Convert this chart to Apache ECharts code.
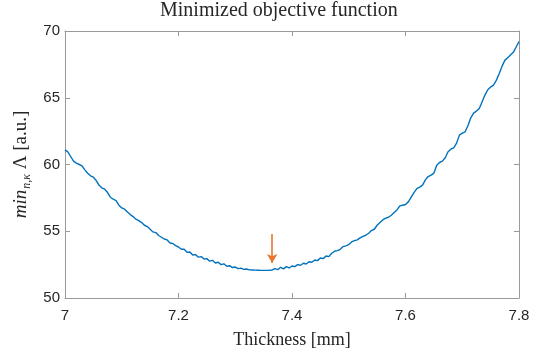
<!DOCTYPE html>
<html>
<head>
<meta charset="utf-8">
<script src="https://cdn.jsdelivr.net/npm/echarts@6/dist/echarts.min.js"></script>
<style>
html,body{margin:0;padding:0;background:#fff;}
#c{width:540px;height:354px;}
</style>
</head>
<body>
<div id="c"></div>
<script>
// Data
var xStart = 7.0, xStep = 0.005;
var objective = [
61.10,60.95,60.60,60.25,60.10,60.00,59.90,59.60,59.35,59.15,
59.05,58.80,58.45,58.25,58.15,57.90,57.55,57.40,57.30,56.95,
56.75,56.65,56.45,56.25,56.10,55.90,55.80,55.65,55.45,55.35,
55.15,54.95,54.90,54.68,54.55,54.42,54.35,54.12,54.08,53.92,
53.82,53.65,53.65,53.42,53.45,53.22,53.25,53.06,53.10,52.92,
52.95,52.76,52.82,52.62,52.68,52.50,52.56,52.38,52.42,52.28,
52.32,52.20,52.24,52.14,52.17,52.11,52.10,52.09,52.08,52.07,
52.07,52.07,52.08,52.10,52.20,52.12,52.30,52.18,52.35,52.25,
52.40,52.35,52.50,52.45,52.60,52.55,52.72,52.68,52.85,52.80,
53.00,52.95,53.15,53.10,53.35,53.50,53.55,53.65,53.85,53.90,
54.00,54.20,54.30,54.35,54.50,54.62,54.70,54.85,55.05,55.15,
55.45,55.65,55.85,55.98,56.05,56.20,56.40,56.60,56.90,56.95,
57.00,57.20,57.55,57.90,58.20,58.30,58.45,58.85,59.10,59.20,
59.35,59.95,60.15,60.25,60.50,60.95,61.15,61.25,61.60,62.20,
62.35,62.45,62.90,63.50,63.85,64.00,64.20,64.70,65.20,65.60,
65.80,65.95,66.30,66.80,67.35,67.80,68.00,68.20,68.40,68.80,
69.20
];
var thickness = objective.map(function(_, i){ return +(xStart + i * xStep).toFixed(3); });
var xTicks = [7, 7.2, 7.4, 7.6, 7.8];
var yTicks = [50, 55, 60, 65, 70];
var arrowX = 7.365, arrowFrom = 54.8, arrowTo = 52.62;

var seriesData = thickness.map(function(x, i){ return [x, objective[i]]; });

var axisCol = '#9a9a9a';
var labelCol = '#262626';
var serif = '"Liberation Serif","DejaVu Serif",serif';
var sans = '"Liberation Sans",Arial,sans-serif';

function xAx(pos, show){
  return {
    type:'value', position:pos, min:xTicks[0], max:xTicks[xTicks.length-1], interval:0.2,
    axisLine:{show:true, onZero:false, lineStyle:{color:axisCol, width:1}},
    axisTick:{show:true, inside:true, length:5, lineStyle:{color:axisCol}},
    axisLabel:{show:show, color:labelCol, fontFamily:sans, fontSize:15, margin:10},
    splitLine:{show:false}
  };
}
function yAx(pos, show){
  return {
    type:'value', position:pos, min:yTicks[0], max:yTicks[yTicks.length-1], interval:5,
    axisLine:{show:true, onZero:false, lineStyle:{color:axisCol, width:1}},
    axisTick:{show:true, inside:true, length:5, lineStyle:{color:axisCol}},
    axisLabel:{show:show, color:labelCol, fontFamily:sans, fontSize:15, margin:5},
    splitLine:{show:false}
  };
}

var xa = xAx('bottom', true);
xa.name = 'Thickness [mm]';
xa.nameLocation = 'middle';
xa.nameGap = 33;
xa.nameTextStyle = {fontFamily:serif, fontSize:18, color:labelCol};
var xt = xAx('top', false);

var ya = yAx('left', true);
ya.name = '{i|min}{s|n,κ}{r| Λ [a.u.]}';
ya.nameLocation = 'middle';
ya.nameGap = 27;
ya.nameRotate = 90;
ya.nameTextStyle = {
  color:labelCol,
  rich:{
    i:{fontFamily:serif, fontStyle:'italic', fontSize:19, color:labelCol, lineHeight:22, verticalAlign:'middle'},
    s:{fontFamily:serif, fontStyle:'italic', fontSize:12, color:labelCol, lineHeight:22, verticalAlign:'bottom', padding:[0,0,0,1]},
    r:{fontFamily:serif, fontSize:19, color:labelCol, lineHeight:22, verticalAlign:'middle'}
  }
};
var yr = yAx('right', false);

var chart = echarts.init(document.getElementById('c'), null, {renderer:'canvas'});
chart.setOption({
  animation:false,
  backgroundColor:'#fff',
  title:{
    text:'Minimized objective function',
    left:160, top:1, padding:0,
    textStyle:{fontFamily:serif, fontSize:20, fontWeight:'normal', color:labelCol}
  },
  grid:{left:65, right:21, top:31, bottom:53, containLabel:false},
  xAxis:[xa, xt],
  yAxis:[ya, yr],
  series:[{
    type:'line', xAxisIndex:0, yAxisIndex:0,
    data:seriesData, showSymbol:false, symbol:'none', smooth:false,
    lineStyle:{color:'#0072BD', width:1.4},
    markLine:{
      silent:true, symbol:['none','arrow'], symbolSize:[8,9],
      label:{show:false},
      lineStyle:{color:'#E8762F', width:1.6, type:'solid'},
      data:[[{coord:[arrowX, arrowFrom]},{coord:[arrowX, arrowTo]}]]
    }
  }]
});
</script>
</body>
</html>
